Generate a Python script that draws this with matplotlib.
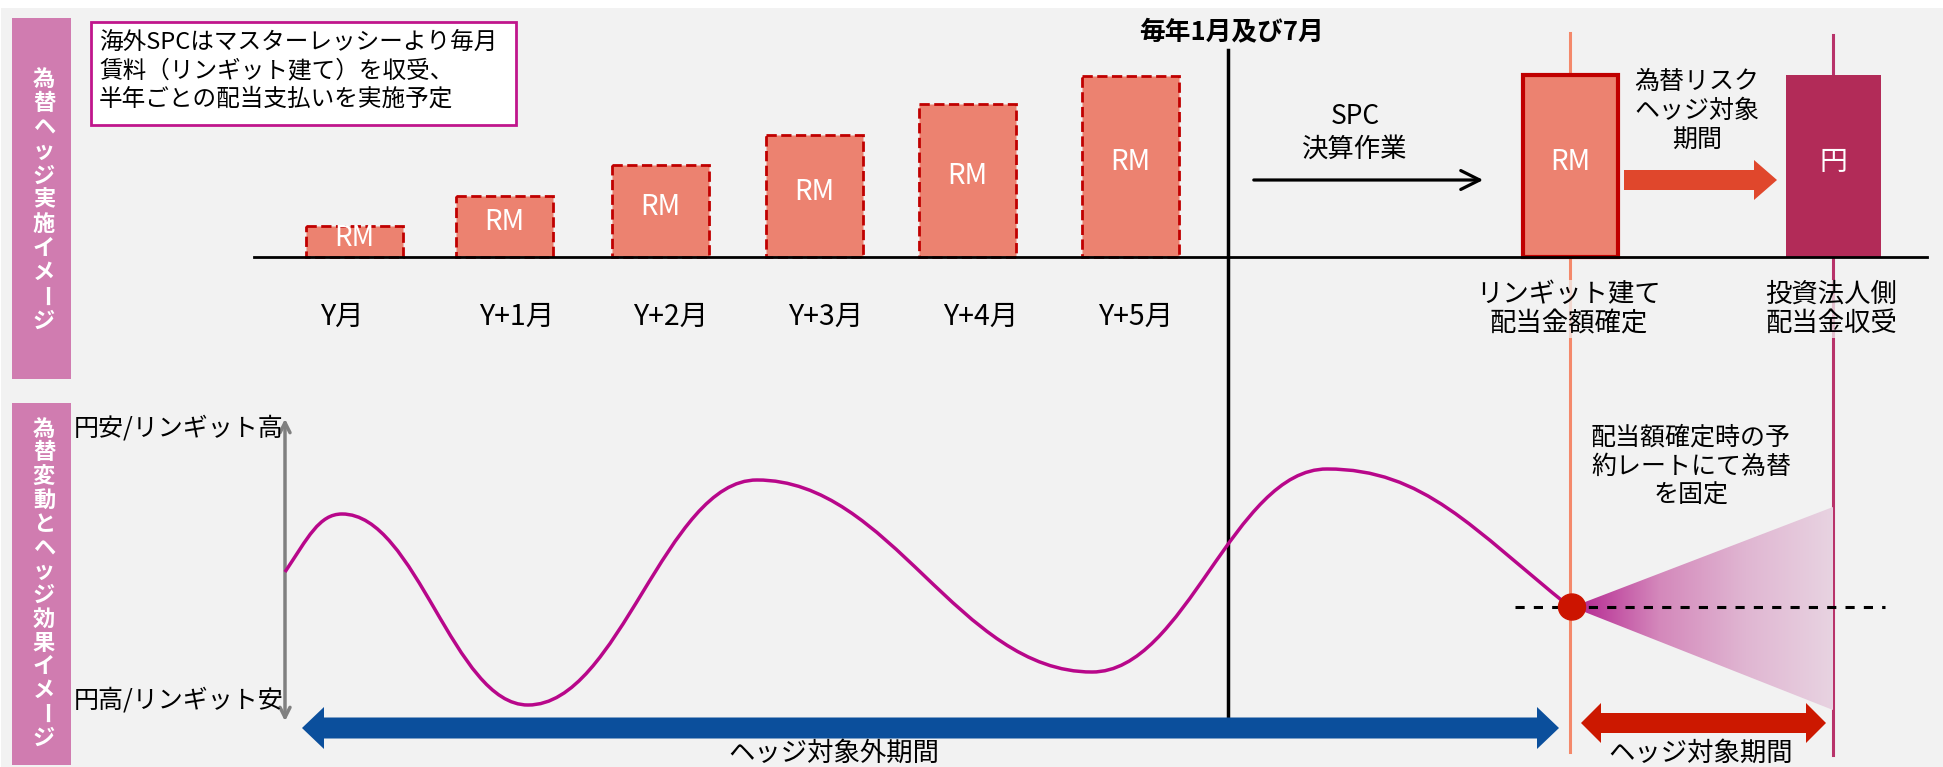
import numpy as np
import matplotlib
matplotlib.use("Agg")
import matplotlib.pyplot as plt
from matplotlib.patches import Rectangle, Polygon, FancyArrow, PathPatch, Ellipse
from matplotlib.path import Path
from matplotlib.colors import LinearSegmentedColormap

plt.rcParams['font.family'] = ['Noto Sans CJK JP', 'DejaVu Sans']

# --- data (pixel units of the 1943x767 canvas) ---
months = ['Y月', 'Y+1月', 'Y+2月', 'Y+3月', 'Y+4月', 'Y+5月']
rent_height = [31, 61, 92, 122, 153, 181]          # monthly RM rent (bar height)
dividend_height = 182                               # RM box / 円 box height
fx_x = [285, 342, 528, 757, 1092, 1327, 1570]       # fx curve key points
fx_y = [572, 514, 705, 480, 672, 469, 607]
fx_slope = [-1.5, 0, 0, 0, 0, 0, 0.8]

# layout
bar_x = [354, 504, 660, 814, 967, 1130]
label_x = [342, 517, 671, 826, 981, 1136]
base_y = 257
bar_w = 97

fig = plt.figure(figsize=(19.43, 7.67), dpi=100, facecolor='white')
ax = fig.add_axes([0, 0, 1, 1])
ax.set_xlim(0, 1943)
ax.set_ylim(767, 0)
ax.axis('off')

ax.add_patch(Rectangle((1, 8), 1942, 760, facecolor='#f2f2f2', edgecolor='none', zorder=0))

# left pink labels
pink = '#d07cb0'
ax.add_patch(Rectangle((12, 18), 59, 361, facecolor=pink, edgecolor='none', zorder=1))
ax.add_patch(Rectangle((12, 403), 59, 362, facecolor=pink, edgecolor='none', zorder=1))


def vlabel(x, y0, step, s):
    for i, ch in enumerate(s):
        ax.text(x, y0 + i * step, ch, rotation=(-90 if ch == 'ー' else 0),
                color='white', fontsize=16, fontweight='bold', ha='center', va='center', zorder=2)


def double_arrow(x0, x1, y, w, hw, hl, color):
    pts = [(x0, y), (x0 + hl, y - hw), (x0 + hl, y - w), (x1 - hl, y - w), (x1 - hl, y - hw),
           (x1, y), (x1 - hl, y + hw), (x1 - hl, y + w), (x0 + hl, y + w), (x0 + hl, y + hw)]
    ax.add_patch(Polygon(pts, closed=True, facecolor=color, edgecolor='none', zorder=3))


vlabel(44, 79, 24.2, '為替ヘッジ実施イメージ')
vlabel(44, 429, 23.8, '為替変動とヘッジ効果イメージ')

# note box
ax.add_patch(Rectangle((91, 22), 425, 103, facecolor='white', edgecolor='#c0168c', lw=2, zorder=2))
for i, line in enumerate(['海外SPCはマスターレッシーより毎月',
                          '賃料（リンギット建て）を収受、',
                          '半年ごとの配当支払いを実施予定']):
    ax.text(99, 43 + 28 * i, line, fontsize=17, ha='left', va='center', zorder=3)

# baseline
ax.plot([254, 1927], [base_y, base_y], color='black', lw=2, zorder=3)

# monthly rent bars
h = np.array(rent_height)
ax.bar(bar_x, h, width=bar_w, bottom=base_y - h, color='#ec8270',
       edgecolor='#c00000', linestyle='--', lw=2, zorder=2)
for x, hh, lx, m in zip(bar_x, rent_height, label_x, months):
    ax.text(x, base_y - hh / 2 - 4, 'RM', color='white', fontsize=20, ha='center', va='center', zorder=4)
    ax.text(lx, 317, m, fontsize=20.5, ha='center', va='center', zorder=4)

# dividend timing line
ax.plot([1228, 1228], [50, 717], color='black', lw=2.5, zorder=3)
ax.text(1232, 32, '毎年1月及び7月', fontsize=18.5, fontweight='bold', ha='center', va='center')

ax.text(1355, 117, 'SPC', fontsize=19, ha='center', va='center')
ax.text(1355, 149, '決算作業', fontsize=19, ha='center', va='center')
ax.annotate('', xy=(1486, 180), xytext=(1251, 180),
            arrowprops=dict(arrowstyle='->', lw=2.3, color='black', mutation_scale=34), zorder=3)

# vertical marker lines
ax.plot([1570, 1570], [33, 752], color='#f4896b', lw=2.2, zorder=1)
ax.plot([1833, 1833], [35, 755], color='#b8336a', lw=2.2, zorder=1)

# RM box and 円 box
ax.bar([1570], [dividend_height], width=95, bottom=base_y - dividend_height,
       color='#ec8270', edgecolor='#c00000', lw=3, zorder=2)
ax.text(1570, 162, 'RM', color='white', fontsize=20, ha='center', va='center', zorder=4)
ax.bar([1833], [dividend_height], width=95, bottom=base_y - dividend_height,
       color='#b22b58', edgecolor='none', zorder=2)
ax.text(1833, 162, '円', color='white', fontsize=20, ha='center', va='center', zorder=4)

ax.add_patch(FancyArrow(1624, 180, 153, 0, width=20, head_width=40, head_length=23,
                        length_includes_head=True, color='#e0472c', lw=0, zorder=3))
for i, line in enumerate(['為替リスク', 'ヘッジ対象', '期間']):
    ax.text(1697, 82 + 29 * i, line, fontsize=18, ha='center', va='center')

box = dict(facecolor='#f2f2f2', edgecolor='none', alpha=0.75, pad=1)
ax.text(1569, 309, 'リンギット建て\n配当金額確定', fontsize=19, ha='center', va='center',
        linespacing=1.1, bbox=box, zorder=2)
ax.text(1831, 309, '投資法人側\n配当金収受', fontsize=19, ha='center', va='center',
        linespacing=1.1, bbox=box, zorder=2)

# fx range arrow and labels
ax.annotate('', xy=(285, 416), xytext=(285, 724),
            arrowprops=dict(arrowstyle='<->', lw=2.5, color='#808080', mutation_scale=18))
ax.text(283, 428, '円安/リンギット高', fontsize=18, ha='right', va='center')
ax.text(283, 701, '円高/リンギット安', fontsize=18, ha='right', va='center')

# fx curve (cubic bezier through key points)
verts = [(fx_x[0], fx_y[0])]
codes = [Path.MOVETO]
for i in range(len(fx_x) - 1):
    dx = fx_x[i + 1] - fx_x[i]
    k = 0.4 * dx
    verts += [(fx_x[i] + k, fx_y[i] + fx_slope[i] * k),
              (fx_x[i + 1] - k, fx_y[i + 1] - fx_slope[i + 1] * k),
              (fx_x[i + 1], fx_y[i + 1])]
    codes += [Path.CURVE4] * 3
ax.add_patch(PathPatch(Path(verts, codes), facecolor='none', edgecolor='#b8078a', lw=2.5, zorder=3))

# hedge cone with gradient
cmap = LinearSegmentedColormap.from_list('cone', ['#b3228f', '#d488bb', '#e0b6d2', '#e8d3e1'])
grad = np.linspace(0, 1, 256).reshape(1, -1)
im = ax.imshow(grad, extent=[1572, 1833, 710, 507], cmap=cmap, aspect='auto', zorder=2)
im.set_clip_path(Polygon([(1572, 607), (1833, 507), (1833, 710)], closed=True, transform=ax.transData))
ax.set_xlim(0, 1943)
ax.set_ylim(767, 0)

ax.plot([1515, 1885], [607, 607], color='black', lw=2.2, dashes=(3, 3), zorder=3)
ax.add_patch(Ellipse((1572, 607), 27, 26, color='#cc1400', zorder=5))

for i, line in enumerate(['配当額確定時の予', '約レートにて為替', 'を固定']):
    ax.text(1691, 438 + 29 * i, line, fontsize=18, ha='center', va='center')

# period arrows
double_arrow(302, 1559, 728, 10.5, 21, 22, '#0b4f9c')
ax.text(834, 753, 'ヘッジ対象外期間', fontsize=19, ha='center', va='center')
double_arrow(1581, 1826, 723, 10, 20, 20, '#cc1800')
ax.text(1701, 753, 'ヘッジ対象期間', fontsize=19, ha='center', va='center')

fig.savefig('out.png', dpi=100, facecolor='white')
